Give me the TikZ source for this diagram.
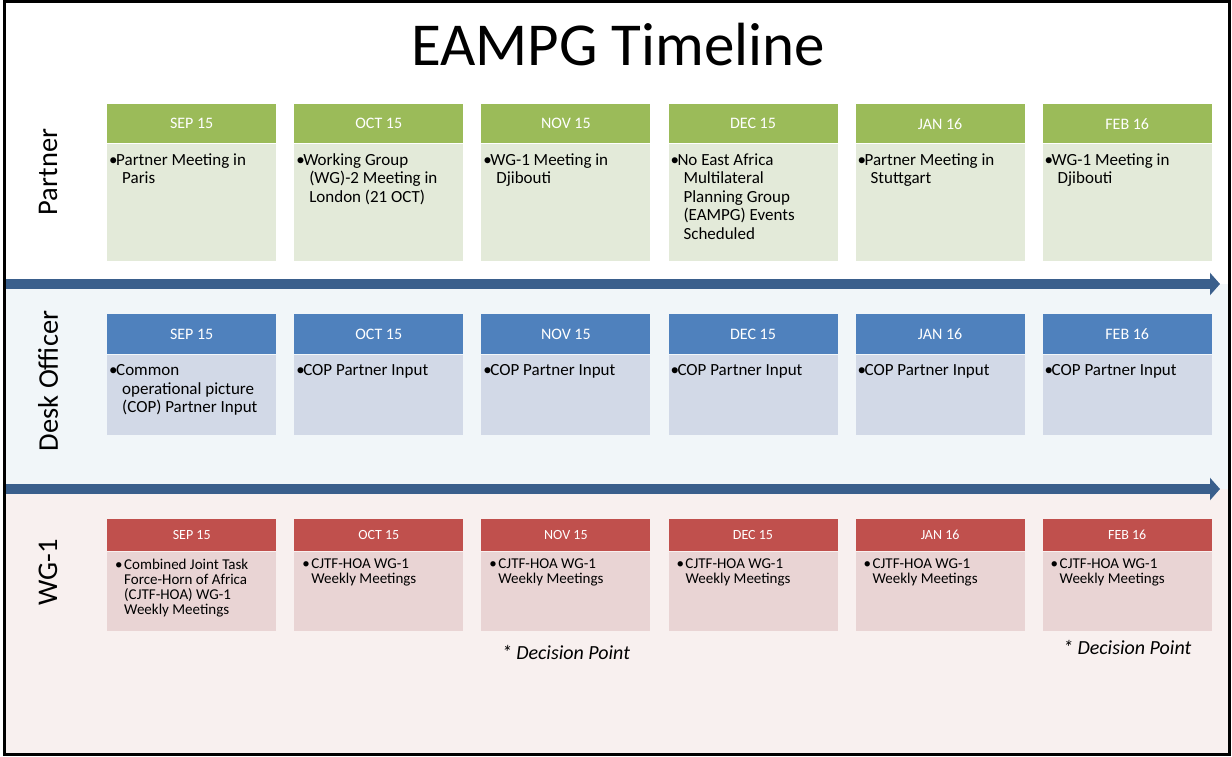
\documentclass[tikz,border=0pt]{standalone}
\usepackage{fontspec}
\setmainfont{Carlito}
\usetikzlibrary{positioning, calc, arrows.meta}

\definecolor{greenhead}{HTML}{9BBB59}
\definecolor{greenbody}{HTML}{E3EAD9}
\definecolor{bluehead}{HTML}{4F81BD}
\definecolor{bluebody}{HTML}{D2D9E7}
\definecolor{redhead}{HTML}{C0504D}
\definecolor{redbody}{HTML}{E9D4D4}
\definecolor{deskband}{HTML}{F1F6F9}
\definecolor{wgband}{HTML}{F8F0EF}
\definecolor{arrowblue}{HTML}{3A5F8C}

% bullet text of one month box
\newcommand{\evt}[2]{\parbox[c][#1][t]{165pt}{\fontsize{17}{18.5}\selectfont\raggedright\hangindent=13pt\hangafter=1\makebox[7pt][l]{\textbullet}#2}}
\newcommand{\wgevt}[1]{\parbox[c][65pt][t]{165pt}{\fontsize{15}{15}\selectfont\raggedright\hangindent=15pt\hangafter=1\hspace*{6pt}\makebox[9pt][l]{\textbullet}#1}}

\begin{document}
\begin{tikzpicture}[x=1pt, y=-1pt, >=stealth]

        % --- Styles ---
        \tikzstyle{head} = [rectangle, minimum width=169pt, inner sep=0pt, text=white, font=\fontsize{16}{18}\selectfont]
        \tikzstyle{body} = [rectangle, minimum width=169pt, inner xsep=2pt, inner ysep=10pt]
        \tikzstyle{lane} = [rotate=90, font=\fontsize{28.5}{30}\selectfont]
        \tikzstyle{timearrow} = [arrowblue, line width=10pt, -{Triangle[length=10pt, width=22pt]}]
        \tikzstyle{decision} = [inner sep=0pt, font=\fontsize{20}{22}\selectfont\itshape]

        % --- Background ---
        \fill[white] (0,0) rectangle (1232,756);
        \fill[deskband] (6,284) rectangle (1228,489);
        \fill[wgband] (6,489) rectangle (1228,753);
        \draw[line width=3pt] (4.5,1.5) rectangle (1229.5,754.5);

        % --- Title and lanes ---
        \node (title) at (618,45) {\fontsize{61}{66}\selectfont EAMPG Timeline};
        \node (lblpartner) [lane] at (48,172) {Partner};
        \node (lbldesk) [lane] at (48,381) {Desk Officer};
        \node (lblwg) [lane] at (48,572) {WG-1};

        % --- Partner ---
        \node (ph1) [head, fill=greenhead, minimum height=39pt, anchor=north west] at (107,104) {SEP 15};
        \node (ph2) [head, fill=greenhead, minimum height=39pt, right=17.7pt of ph1] {OCT 15};
        \node (ph3) [head, fill=greenhead, minimum height=39pt, right=17.7pt of ph2] {NOV 15};
        \node (ph4) [head, fill=greenhead, minimum height=39pt, right=17.7pt of ph3] {DEC 15};
        \node (ph5) [head, fill=greenhead, minimum height=39pt, right=17.7pt of ph4] {JAN 16};
        \node (ph6) [head, fill=greenhead, minimum height=39pt, right=17.7pt of ph5] {FEB 16};
        \node (pb1) [body, fill=greenbody, below=0pt of ph1] {\evt{97pt}{Partner Meeting in\newline Paris}};
        \node (pb2) [body, fill=greenbody, below=0pt of ph2] {\evt{97pt}{Working Group\newline (WG)-2 Meeting in\newline London (21 OCT)}};
        \node (pb3) [body, fill=greenbody, below=0pt of ph3] {\evt{97pt}{WG-1 Meeting in\newline Djibouti}};
        \node (pb4) [body, fill=greenbody, below=0pt of ph4] {\evt{97pt}{No East Africa\newline Multilateral\newline Planning Group\newline (EAMPG) Events\newline Scheduled}};
        \node (pb5) [body, fill=greenbody, below=0pt of ph5] {\evt{97pt}{Partner Meeting in\newline Stuttgart}};
        \node (pb6) [body, fill=greenbody, below=0pt of ph6] {\evt{97pt}{WG-1 Meeting in\newline Djibouti}};

        % --- Desk Officer ---
        \node (dh1) [head, fill=bluehead, minimum height=40pt, anchor=north west] at (107,314) {SEP 15};
        \node (dh2) [head, fill=bluehead, minimum height=40pt, right=17.7pt of dh1] {OCT 15};
        \node (dh3) [head, fill=bluehead, minimum height=40pt, right=17.7pt of dh2] {NOV 15};
        \node (dh4) [head, fill=bluehead, minimum height=40pt, right=17.7pt of dh3] {DEC 15};
        \node (dh5) [head, fill=bluehead, minimum height=40pt, right=17.7pt of dh4] {JAN 16};
        \node (dh6) [head, fill=bluehead, minimum height=40pt, right=17.7pt of dh5] {FEB 16};
        \node (db1) [body, fill=bluebody, below=0pt of dh1] {\evt{60pt}{Common\newline operational picture\newline (COP) Partner Input}};
        \node (db2) [body, fill=bluebody, below=0pt of dh2] {\evt{60pt}{COP Partner Input}};
        \node (db3) [body, fill=bluebody, below=0pt of dh3] {\evt{60pt}{COP Partner Input}};
        \node (db4) [body, fill=bluebody, below=0pt of dh4] {\evt{60pt}{COP Partner Input}};
        \node (db5) [body, fill=bluebody, below=0pt of dh5] {\evt{60pt}{COP Partner Input}};
        \node (db6) [body, fill=bluebody, below=0pt of dh6] {\evt{60pt}{COP Partner Input}};

        % --- WG-1 ---
        \node (wh1) [head, fill=redhead, minimum height=32pt, font=\fontsize{14}{16}\selectfont, anchor=north west] at (107,519) {SEP 15};
        \node (wh2) [head, fill=redhead, minimum height=32pt, font=\fontsize{14}{16}\selectfont, right=17.7pt of wh1] {OCT 15};
        \node (wh3) [head, fill=redhead, minimum height=32pt, font=\fontsize{14}{16}\selectfont, right=17.7pt of wh2] {NOV 15};
        \node (wh4) [head, fill=redhead, minimum height=32pt, font=\fontsize{14}{16}\selectfont, right=17.7pt of wh3] {DEC 15};
        \node (wh5) [head, fill=redhead, minimum height=32pt, font=\fontsize{14}{16}\selectfont, right=17.7pt of wh4] {JAN 16};
        \node (wh6) [head, fill=redhead, minimum height=32pt, font=\fontsize{14}{16}\selectfont, right=17.7pt of wh5] {FEB 16};
        \node (wb1) [body, fill=redbody, inner ysep=7pt, below=0pt of wh1] {\wgevt{Combined Joint Task\newline Force-Horn of Africa\newline (CJTF-HOA) WG-1\newline Weekly Meetings}};
        \node (wb2) [body, fill=redbody, inner ysep=7pt, below=0pt of wh2] {\wgevt{CJTF-HOA WG-1\newline Weekly Meetings}};
        \node (wb3) [body, fill=redbody, inner ysep=7pt, below=0pt of wh3] {\wgevt{CJTF-HOA WG-1\newline Weekly Meetings}};
        \node (wb4) [body, fill=redbody, inner ysep=7pt, below=0pt of wh4] {\wgevt{CJTF-HOA WG-1\newline Weekly Meetings}};
        \node (wb5) [body, fill=redbody, inner ysep=7pt, below=0pt of wh5] {\wgevt{CJTF-HOA WG-1\newline Weekly Meetings}};
        \node (wb6) [body, fill=redbody, inner ysep=7pt, below=0pt of wh6] {\wgevt{CJTF-HOA WG-1\newline Weekly Meetings}};

        % Decision points
        \node (dp1) [decision] at ($(wb3.south)+(0,22)$) {* Decision Point};
        \node (dp2) [decision] at ($(wb6.south)+(0,17)$) {* Decision Point};

        % --- Time arrows ---
        \coordinate (a1s) at (6,284);
        \coordinate (a1e) at (1220,284);
        \coordinate (a2s) at (6,489);
        \coordinate (a2e) at (1220,489);
        \draw[timearrow] (a1s) -- (a1e);
        \draw[timearrow] (a2s) -- (a2e);
\end{tikzpicture}
\end{document}
